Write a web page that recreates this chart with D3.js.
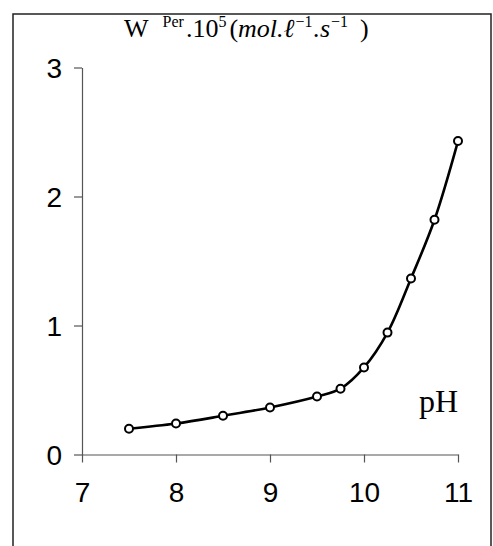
<!DOCTYPE html>
<html>
<head>
<meta charset="utf-8">
<script src="https://cdn.jsdelivr.net/npm/d3@7"></script>
<style>
  body { margin: 0; background: #fff; }
  .tick text { font-family: "Liberation Sans", Arial, sans-serif; font-size: 28px; fill: #000; }
  .axis path, .axis line { stroke: #555; stroke-width: 1.2; }
</style>
</head>
<body>
<div id="chart"></div>
<script>
// values
var pH = [7.5, 8, 8.5, 9, 9.5, 9.75, 10, 10.25, 10.5, 10.75, 11];
var rate = [0.20, 0.24, 0.30, 0.365, 0.45, 0.51, 0.675, 0.945, 1.365, 1.82, 2.43];
var xTicks = [7, 8, 9, 10, 11];
var yTicks = [0, 1, 2, 3];

var Width = 493;
var Height = 546;

var svg = d3.select("#chart")
  .append("svg")
  .attr("width", Width)
  .attr("height", Height);

// outer frame (runs off the right and bottom of the picture)
svg.append("rect")
  .attr("x", 13)
  .attr("y", 14)
  .attr("width", 478)
  .attr("height", 600)
  .attr("fill", "none")
  .attr("stroke", "#222")
  .attr("stroke-width", 1.5);

var x = d3.scaleLinear().domain([7, 11]).range([82, 458]);
var y = d3.scaleLinear().domain([0, 3]).range([454.5, 67.5]);

// x axis
var xAxis = d3.axisBottom(x).tickValues(xTicks).tickFormat(d3.format("d"))
  .tickSize(8).tickSizeOuter(0).tickPadding(20);
svg.append("g")
  .attr("class", "axis")
  .attr("transform", "translate(0," + y(0) + ")")
  .call(xAxis);

// y axis
var yAxis = d3.axisLeft(y).tickValues(yTicks).tickFormat(d3.format("d"))
  .tickSize(8).tickSizeOuter(0).tickPadding(12);
svg.append("g")
  .attr("class", "axis")
  .attr("transform", "translate(" + x(7) + ",0)")
  .call(yAxis)
  .selectAll(".tick text").attr("dy", "0.36em");

// smoothed line
var pts = pH.map(function(d, i) { return [d, rate[i]]; });
var line = d3.line()
  .x(function(d) { return x(d[0]); })
  .y(function(d) { return y(d[1]); })
  .curve(d3.curveCatmullRom.alpha(0.5));

svg.append("path")
  .datum(pts)
  .attr("d", line)
  .attr("fill", "none")
  .attr("stroke", "#000")
  .attr("stroke-width", 2.6);

// markers
svg.selectAll("circle.pt")
  .data(pts)
  .enter()
  .append("circle")
  .attr("class", "pt")
  .attr("cx", function(d) { return x(d[0]); })
  .attr("cy", function(d) { return y(d[1]); })
  .attr("r", 4)
  .attr("fill", "#fff")
  .attr("stroke", "#000")
  .attr("stroke-width", 2);

// title, laid out piece by piece like an equation
var title = svg.append("text")
  .attr("x", 124)
  .attr("y", 37)
  .attr("font-family", "'Liberation Serif', 'Times New Roman', serif")
  .attr("font-size", 26)
  .attr("fill", "#000");
var parts = [
  { t: "W", gap: 0, sup: false },
  { t: "Per", gap: 14, sup: true },
  { t: ".10", gap: 2, sup: false },
  { t: "5", gap: 0, sup: true },
  { t: "(", gap: 3, sup: false },
  { t: "mol.ℓ", gap: 0, sup: false, it: true },
  { t: "−1", gap: 1, sup: true },
  { t: ".s", gap: 1, sup: false, it: true },
  { t: "−1", gap: 1, sup: true },
  { t: ")", gap: 12, sup: false }
];
var wasSup = false;
parts.forEach(function(p) {
  var shift = 0;
  if (p.sup && !wasSup) shift = -10;
  if (!p.sup && wasSup) shift = 10;
  title.append("tspan")
    .attr("dx", p.gap)
    .attr("dy", shift)
    .attr("font-size", p.sup ? 16 : 26)
    .attr("font-style", p.it ? "italic" : null)
    .text(p.t);
  wasSup = p.sup;
});

// x label
svg.append("text")
  .attr("x", 419)
  .attr("y", 412)
  .attr("font-family", "'Liberation Serif', 'Times New Roman', serif")
  .attr("font-size", 32)
  .attr("fill", "#000")
  .text("pH");
</script>
</body>
</html>
